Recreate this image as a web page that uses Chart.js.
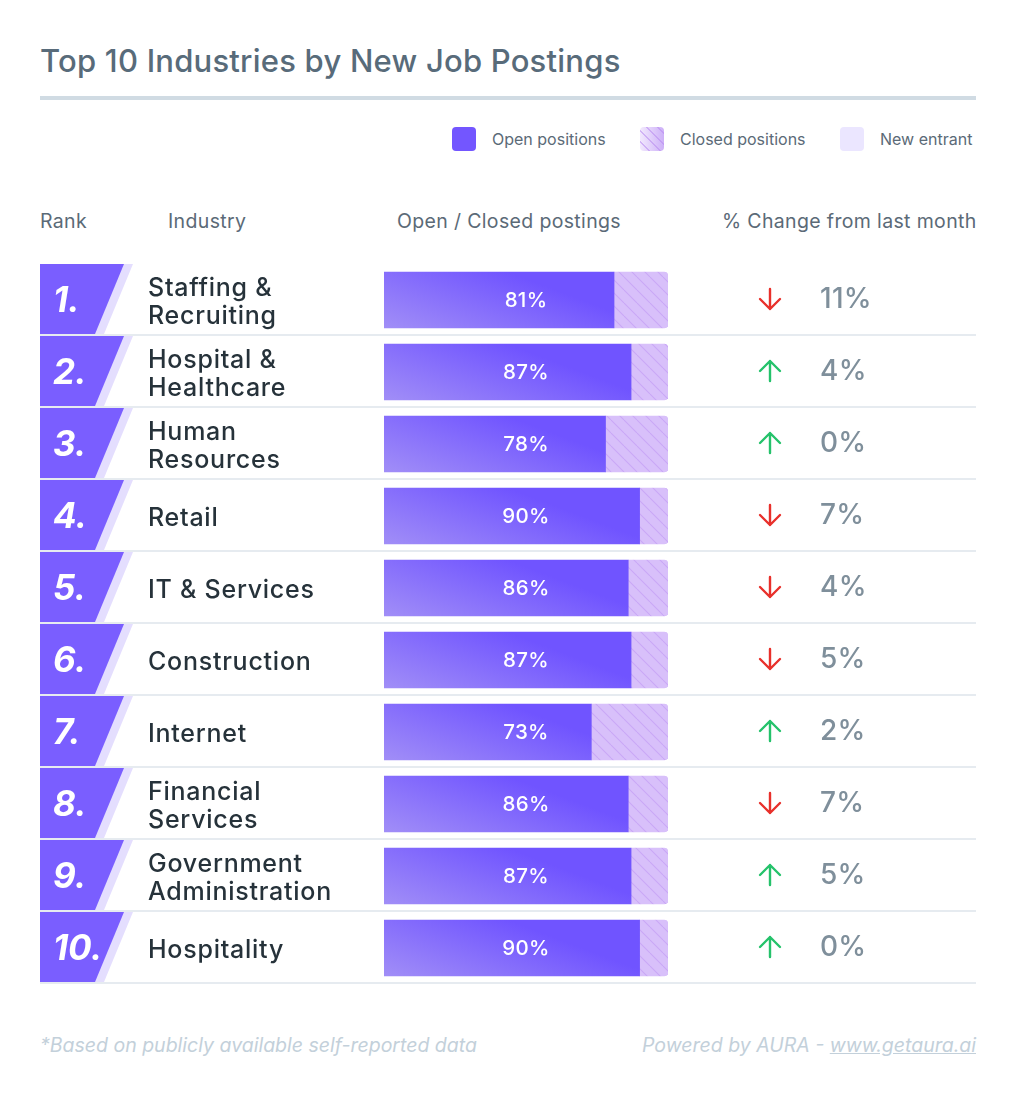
<!DOCTYPE html>
<html>
<head>
<meta charset="utf-8">
<script src="https://cdn.jsdelivr.net/npm/chart.js@4.4.1/dist/chart.umd.min.js"></script>
<style>
  html, body { margin: 0; padding: 0; background: #ffffff; }
  body { width: 1016px; height: 1100px; position: relative; overflow: hidden; font-family: Inter, "Noto Sans", sans-serif; }
  .abs { position: absolute; white-space: nowrap; }
  #title { left: 40px; top: 43px; font-size: 31px; line-height: 36px; font-weight: 500; color: #586b7a; letter-spacing: 0.22px; }
  #rule { left: 40px; top: 96px; width: 936px; height: 4px; background: #d0dbe3; }
  .lg-sq { position: absolute; width: 24px; height: 24px; border-radius: 4px; top: 127px; }
  .lg-tx { position: absolute; top: 128px; font-size: 16px; line-height: 22px; color: #5b6a77; white-space: nowrap; }
  .hdr { position: absolute; top: 209px; font-size: 19.5px; line-height: 24px; color: #5b6a77; letter-spacing: 0.35px; white-space: nowrap; }
  .rank { position: absolute; left: 53px; font-size: 35px; line-height: 40px; font-weight: 700; font-style: italic; color: #ffffff; transform: translateY(-50%); letter-spacing: 0px; white-space: nowrap; }
  .ind { position: absolute; left: 148px; font-size: 25px; line-height: 28px; font-weight: 500; color: #26323a; transform: translateY(-50%); letter-spacing: 0.75px; white-space: nowrap; }
  .pct { position: absolute; font-size: 20.5px; line-height: 24px; font-weight: 500; color: #ffffff; transform: translate(-50%, -50%); letter-spacing: 0.3px; white-space: nowrap; }
  .chg { position: absolute; left: 820px; font-size: 28px; line-height: 32px; font-weight: 500; color: #7f8f9b; transform: translateY(-50%); letter-spacing: 0.3px; white-space: nowrap; }
  .foot { position: absolute; top: 1033px; font-size: 19.5px; line-height: 24px; font-style: italic; color: #c3d0da; white-space: nowrap; }
  #chartWrap { position: absolute; left: 0; top: 264px; width: 1016px; height: 720px; }
</style>
</head>
<body>
<div id="title" class="abs">Top 10 Industries by New Job Postings</div>
<div id="rule" class="abs"></div>

<div class="lg-sq" style="left:452px;background:#7356ff;"></div>
<div class="lg-tx" style="left:492px;">Open positions</div>
<div class="lg-sq" style="left:640px;background:repeating-linear-gradient(45deg, rgba(255,255,255,0) 0px, rgba(255,255,255,0) 6px, rgba(185,140,240,0.55) 6px, rgba(185,140,240,0.55) 7.5px), linear-gradient(90deg, #f2e9fd, #cdb0f8);"></div>
<div class="lg-tx" style="left:680px;">Closed positions</div>
<div class="lg-sq" style="left:840px;background:#ebe6ff;"></div>
<div class="lg-tx" style="left:880px;">New entrant</div>

<div class="hdr" style="left:40px;">Rank</div>
<div class="hdr" style="left:168px;">Industry</div>
<div class="hdr" style="left:397px;">Open / Closed postings</div>
<div class="hdr" style="left:722px;">% Change from last month</div>

<div id="chartWrap"><canvas id="c" width="1016" height="720"></canvas></div>
<div id="labels"></div>

<div class="foot" style="left:40px;">*Based on publicly available self-reported data</div>
<div class="foot" style="right:40px;">Powered by AURA - <span style="text-decoration:underline;">www.getaura.ai</span></div>

<script>
const ranks = ['1.', '2.', '3.', '4.', '5.', '6.', '7.', '8.', '9.', '10.'];
const industries = [
  ['Staffing &', 'Recruiting'],
  ['Hospital &', 'Healthcare'],
  ['Human', 'Resources'],
  ['Retail'],
  ['IT & Services'],
  ['Construction'],
  ['Internet'],
  ['Financial', 'Services'],
  ['Government', 'Administration'],
  ['Hospitality']
];
const openPct = [81, 87, 78, 90, 86, 87, 73, 86, 87, 90];
const closedPct = [19, 13, 22, 10, 14, 13, 27, 14, 13, 10];
const changePct = [11, 4, 0, 7, 4, 5, 2, 7, 5, 0];
const changeDir = ['down', 'up', 'up', 'down', 'down', 'down', 'up', 'down', 'up', 'up'];

const canvas = document.getElementById('c');
const ctx0 = canvas.getContext('2d');

// hatch pattern for closed positions
function makeHatch() {
  const s = 13;
  const p = document.createElement('canvas');
  p.width = s; p.height = s;
  const c = p.getContext('2d');
  c.fillStyle = '#d8c0fa';
  c.fillRect(0, 0, s, s);
  c.strokeStyle = '#c9a8f6';
  c.lineWidth = 1.1;
  for (const k of [-s, 0, s]) {
    c.beginPath();
    c.moveTo(k, 0);
    c.lineTo(k + s, s);
    c.stroke();
  }
  return ctx0.createPattern(p, 'repeat');
}
const hatch = makeHatch();

function openFill(context) {
  const ch = context.chart;
  if (!ch.chartArea || context.type !== 'data') return '#7356ff';
  const xs = ch.scales.x, ys = ch.scales.y;
  const y = ys.getPixelForValue(context.dataIndex);
  const x0 = xs.getPixelForValue(0);
  const g = ch.ctx.createLinearGradient(x0, y + 28, x0 + 34, y - 62);
  g.addColorStop(0, '#a18ef7');
  g.addColorStop(1, '#7054ff');
  return g;
}

const rowPlugin = {
  id: 'rowDecor',
  beforeDatasetsDraw(chart) {
    const c = chart.ctx;
    const ys = chart.scales.y;
    c.save();
    ranks.forEach((r, i) => {
      const yc = ys.getPixelForValue(i);
      const top = yc - 36;
      const bot = top + 70;
      // rank badge
      c.fillStyle = '#e4defe';
      c.beginPath();
      c.moveTo(123, top); c.lineTo(133, top); c.lineTo(104, bot); c.lineTo(94, bot); c.closePath();
      c.fill();
      c.fillStyle = '#7a5eff';
      c.beginPath();
      c.moveTo(40, top); c.lineTo(124, top); c.lineTo(95, bot); c.lineTo(40, bot); c.closePath();
      c.fill();
      // separator
      c.fillStyle = '#e6ebf0';
      c.fillRect(40, bot, 936, 2);
    });
    // fill behind the junction between open and closed parts
    const meta = chart.getDatasetMeta(1);
    c.fillStyle = hatch;
    meta.data.forEach(el => {
      c.fillRect(el.base - 6, el.y - 28, 7, 56);
    });
    c.restore();
  },
  afterDatasetsDraw(chart) {
    const c = chart.ctx;
    const ys = chart.scales.y;
    c.save();
    c.lineWidth = 2.4;
    c.lineCap = 'round';
    c.lineJoin = 'round';
    changeDir.forEach((d, i) => {
      const yc = ys.getPixelForValue(i) - 1;
      const x = 770;
      c.strokeStyle = d === 'down' ? '#e8302b' : '#25c26b';
      c.beginPath();
      c.moveTo(x, yc - 10); c.lineTo(x, yc + 10);
      if (d === 'down') {
        c.moveTo(x - 10, yc); c.lineTo(x, yc + 10); c.lineTo(x + 10, yc);
      } else {
        c.moveTo(x - 10, yc); c.lineTo(x, yc - 10); c.lineTo(x + 10, yc);
      }
      c.stroke();
    });
    c.restore();
  }
};

const chart = new Chart(canvas, {
  type: 'bar',
  data: {
    labels: industries.map(a => a.join(' ')),
    datasets: [
      {
        label: 'Open positions',
        data: openPct,
        backgroundColor: openFill,
        borderRadius: 4,
        borderSkipped: false,
        barThickness: 56
      },
      {
        label: 'Closed positions',
        data: closedPct,
        backgroundColor: hatch,
        borderRadius: { topLeft: 0, bottomLeft: 0, topRight: 4, bottomRight: 4 },
        borderSkipped: false,
        barThickness: 56
      }
    ]
  },
  options: {
    indexAxis: 'y',
    responsive: false,
    maintainAspectRatio: false,
    animation: false,
    events: [],
    layout: { padding: { left: 384, right: 348, top: 0, bottom: 0 } },
    scales: {
      x: { stacked: true, min: 0, max: 100, display: false },
      y: { stacked: true, display: false, offset: true }
    },
    plugins: {
      legend: { display: false },
      tooltip: { enabled: false },
      title: { display: false }
    }
  },
  plugins: [rowPlugin]
});

// place the text of each row from the chart's own scales
(function placeLabels() {
  const host = document.getElementById('labels');
  const xs = chart.scales.x, ys = chart.scales.y;
  const offTop = 264;
  const barMid = (xs.getPixelForValue(0) + xs.getPixelForValue(100)) / 2;
  ranks.forEach((r, i) => {
    const yc = offTop + ys.getPixelForValue(i);
    const rk = document.createElement('div');
    rk.className = 'rank'; rk.style.top = (yc - 1) + 'px'; rk.textContent = r;
    host.appendChild(rk);
    const ind = document.createElement('div');
    ind.className = 'ind'; ind.style.top = (yc + 1) + 'px';
    ind.innerHTML = industries[i].map(s => s.replace(/&/g, '&amp;')).join('<br>');
    host.appendChild(ind);
    const pc = document.createElement('div');
    pc.className = 'pct'; pc.style.left = barMid + 'px'; pc.style.top = yc + 'px';
    pc.textContent = openPct[i] + '%';
    host.appendChild(pc);
    const ch = document.createElement('div');
    ch.className = 'chg'; ch.style.top = (yc - 2) + 'px';
    ch.textContent = changePct[i] + '%';
    host.appendChild(ch);
  });
})();
</script>
</body>
</html>
